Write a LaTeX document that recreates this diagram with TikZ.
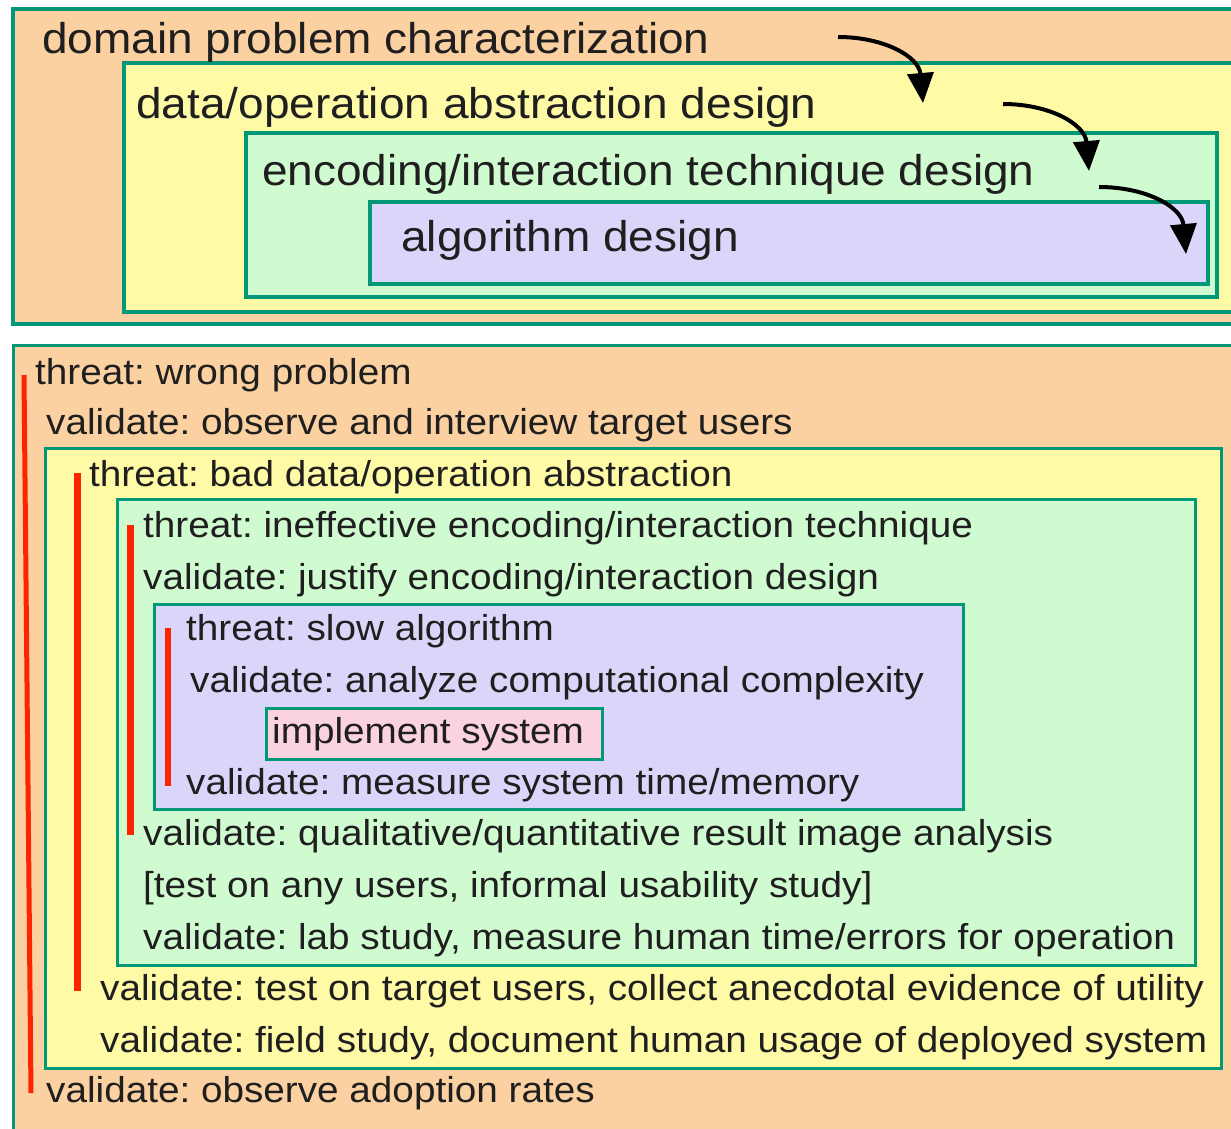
\documentclass[tikz,border=0pt]{standalone}
\usepackage{fontspec}
\usepackage{graphicx}
\setmainfont{Liberation Sans}
\frenchspacing
\usetikzlibrary{arrows.meta}
\definecolor{cOrange}{RGB}{251,209,162}
\definecolor{cYellow}{RGB}{255,250,166}
\definecolor{cGreen}{RGB}{208,250,208}
\definecolor{cPurple}{RGB}{218,214,250}
\definecolor{cPink}{RGB}{250,210,224}
\definecolor{cTeal}{RGB}{0,152,118}
\definecolor{cRed}{RGB}{255,36,0}
\newcommand\bigtxt[1]{\scalebox{1.07}[1]{\fontsize{43}{46}\selectfont #1}}
\newcommand\smtxt[1]{\scalebox{1.075}[1]{\fontsize{36}{40}\selectfont #1}}
\begin{document}
\begin{tikzpicture}[x=1pt,y=-1pt,
  topbox/.style={draw=cTeal,line width=4pt},
  botbox/.style={draw=cTeal,line width=3pt},
  toptext/.style={anchor=base west,inner sep=0pt,text=black!88},
  bottext/.style={anchor=base west,inner sep=0pt,text=black!88},
  flowarrow/.style={line width=4pt,-{Triangle[length=30pt,width=26pt]}},
  redbar/.style={draw=cRed,line width=6pt}]
\useasboundingbox (0,0) rectangle (1231,1128);
\clip (0,0) rectangle (1231,1128);
\fill[white] (0,0) rectangle (1231,1128);
% ---------- top panel ----------
\path[topbox,fill=cOrange] (13,9) rectangle (1260,324);
\path[topbox,fill=cYellow] (124,63) rectangle (1260,312);
\path[topbox,fill=cGreen] (246,133) rectangle (1217,297);
\path[topbox,fill=cPurple] (370,202) rectangle (1208,284);
\node[toptext] (t1) at (42,53) {\bigtxt{domain problem characterization}};
\node[toptext] (t2) at (136,118) {\bigtxt{data/operation abstraction design}};
\node[toptext] (t3) at (262,185) {\bigtxt{encoding/interaction technique design}};
\node[toptext] (t4) at (401,251) {\bigtxt{algorithm design}};
\coordinate (a1s) at (838,37);
\coordinate (a1e) at (923,103);
\coordinate (a2s) at (1003,104);
\coordinate (a2e) at (1089,171);
\coordinate (a3s) at (1099,187);
\coordinate (a3e) at (1186,254);
\draw[flowarrow] (a1s) to[out=0,in=95,looseness=1.1] (a1e);
\draw[flowarrow] (a2s) to[out=0,in=95,looseness=1.1] (a2e);
\draw[flowarrow] (a3s) to[out=0,in=95,looseness=1.1] (a3e);
% ---------- bottom panel ----------
\path[botbox,fill=cOrange] (13,345) rectangle (1260,1160);
\path[botbox,fill=cYellow] (45,448) rectangle (1221,1068);
\path[botbox,fill=cGreen] (117,499) rectangle (1195,965);
\path[botbox,fill=cPurple] (154,604) rectangle (963,809);
\node[botbox,fill=cPink,anchor=north west,minimum width=336pt,minimum height=51pt,inner sep=0pt] (impl) at (265,707) {};
\node[bottext] (l1) at (35,384) {\smtxt{threat: wrong problem}};
\node[bottext] (l2) at (46,434) {\smtxt{validate: observe and interview target users}};
\node[bottext] (l3) at (89,486) {\smtxt{threat: bad data/operation abstraction}};
\node[bottext] (l4) at (143,537) {\smtxt{threat: ineffective encoding/interaction technique}};
\node[bottext] (l5) at (143,589) {\smtxt{validate: justify encoding/interaction design}};
\node[bottext] (l6) at (186,640) {\smtxt{threat: slow algorithm}};
\node[bottext] (l7) at (190,692) {\smtxt{validate: analyze computational complexity}};
\node[bottext] (l8) at (272,743) {\smtxt{implement system}};
\node[bottext] (l9) at (186,794) {\smtxt{validate: measure system time/memory}};
\node[bottext] (l10) at (143,845) {\smtxt{validate: qualitative/quantitative result image analysis}};
\node[bottext] (l11) at (143,897) {\smtxt{[test on any users, informal usability study]}};
\node[bottext] (l12) at (143,949) {\smtxt{validate: lab study, measure human time/errors for operation}};
\node[bottext] (l13) at (100,1000) {\smtxt{validate: test on target users, collect anecdotal evidence of utility}};
\node[bottext] (l14) at (100,1052) {\smtxt{validate: field study, document human usage of deployed system}};
\node[bottext] (l15) at (46,1102) {\smtxt{validate: observe adoption rates}};
% red bars
\coordinate (r1a) at (24,375); \coordinate (r1b) at (31,1093);
\coordinate (r2a) at (77,473); \coordinate (r2b) at (77,991);
\coordinate (r3a) at (130,525); \coordinate (r3b) at (130,835);
\coordinate (r4a) at (168,628); \coordinate (r4b) at (168,786);
\draw[redbar,line width=5pt] (r1a) -- (r1b);
\draw[redbar,line width=7pt] (r2a) -- (r2b);
\draw[redbar,line width=7pt] (r3a) -- (r3b);
\draw[redbar] (r4a) -- (r4b);
\end{tikzpicture}
\end{document}
